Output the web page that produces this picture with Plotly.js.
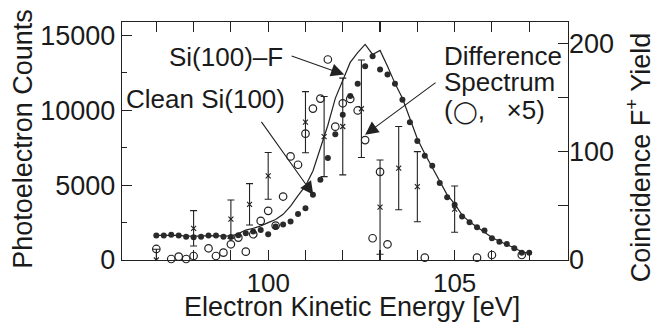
<!DOCTYPE html>
<html>
<head>
<meta charset="utf-8">
<script src="https://cdn.plot.ly/plotly-3.0.1.min.js"></script>
<style>html,body{margin:0;padding:0;background:#fff;}#chart{width:656px;height:322px;}</style>
</head>
<body>
<div id="chart"></div>
<script>
// Energy grid (eV) for the photoelectron spectra
var energyGrid = [97.0,97.2,97.4,97.6,97.8,98.0,98.2,98.4,98.6,98.8,99.0,99.2,99.4,99.6,99.8,
  100.0,100.2,100.4,100.6,100.8,101.0,101.2,101.4,101.6,101.8,102.0,102.2,102.4,102.6,102.8,
  103.0,103.2,103.4,103.6,103.8,104.0,104.2,104.4,104.6,104.8,105.0,105.2,105.4,105.6,105.8,
  106.0,106.2,106.4,106.6,106.8,107.0];
// Si(100)-F spectrum (line)
var siFCounts = [1650,1650,1660,1640,1600,1580,1600,1630,1630,1600,1600,1760,2000,2120,2280,
  2500,2700,3050,3600,4300,4950,5950,7500,9000,10800,12050,13200,13860,14400,13730,
  14000,12950,11800,10800,9500,8100,7100,6200,5200,4350,3750,3000,2550,2200,1900,
  1500,1250,1050,800,550,450];
// Clean Si(100) spectrum (filled dots)
var cleanCounts = [1630,1630,1680,1630,1560,1520,1560,1630,1630,1560,1540,1650,1790,1900,2010,
  1720,2230,2370,2565,3080,3460,4354,5358,6810,8400,9712,10950,11770,12950,13620,
  12730,12390,11770,10700,9200,7950,6966,6296,5137,4200,3684,2900,2525,2190,1963,
  1453,1226,1072,783,490,490];
// Difference spectrum x5 (open circles, visible points)
var diffEnergy = [97.0,97.4,97.6,97.8,98.0,98.4,98.6,98.8,99.0,99.2,99.4,99.6,99.8,100.0,100.2,
  100.4,100.6,100.8,101.0,101.2,101.4,101.6,101.8,102.0,102.2,102.4,102.6,102.8,103.0,103.2,
  104.2,105.6,106.0,106.8];
var diffCounts = [737,67,221,67,268,783,268,490,1050,1496,557,1720,2612,3282,2300,
  4240,6919,6363,8439,10114,10784,13396,8910,10470,10760,9990,8010,1453,5890,1050,
  154,154,335,335];
// Coincidence F+ yield (right axis) with error bars
var coinEnergy = [97.0,98.0,99.0,99.5,100.0,101.0,101.5,102.0,102.5,103.0,103.5,104.0,105.0];
var coinYield  = [0,29.3,37.8,51.5,77.8,127.4,114.1,123.4,139.8,48.9,84.9,67.8,47.0];
var coinError  = [10,16.3,17.7,19.1,21.6,28.2,37,44.7,45.1,43.6,38.5,32.4,21.4];
// Tick labels
var xTickVals = [97,98,99,100,101,102,103,104,105,106,107];
var xTickText = ['','','','100','','','','','105','',''];
var yTickVals = [0,5000,10000,15000];
var yTickText = ['0','5000','10000','15000'];
var y2TickVals = [0,50,100,150,200];
var y2TickText = ['0','','100','','200'];
// Texts
var xTitle = 'Electron Kinetic Energy [eV]';
var yTitle = 'Photoelectron Counts';
var y2Title = 'Coincidence F<sup>+</sup> Yield';

var ink = '#222';
var traces = [
  {x: energyGrid, y: siFCounts, type:'scatter', mode:'lines',
   line:{color:ink, width:1.2}, hoverinfo:'skip'},
  {x: energyGrid, y: cleanCounts, type:'scatter', mode:'markers',
   marker:{symbol:'circle', size:6, color:'#2a2a2a'}, cliponaxis:false},
  {x: diffEnergy, y: diffCounts, type:'scatter', mode:'markers',
   marker:{symbol:'circle-open', size:7.5, color:ink, line:{width:1.2, color:ink}}, cliponaxis:false},
  {x: coinEnergy, y: coinYield, yaxis:'y2', type:'scatter', mode:'markers',
   marker:{symbol:'x-thin', size:5, color:ink, line:{width:1.1, color:ink}},
   error_y:{type:'data', array: coinError, visible:true, width:3.5, thickness:1.1, color:ink}}
];

var font = 'Liberation Sans, Arial, Helvetica, sans-serif';
var txt = '#1a1a1a';
var layout = {
  width:656, height:322,
  margin:{l:122, r:88, t:22, b:62, pad:0},
  paper_bgcolor:'#fff', plot_bgcolor:'#fff',
  showlegend:false,
  font:{family:font, size:26, color:txt},
  xaxis:{range:[96.08,108.04], tickmode:'array', tickvals:xTickVals, ticktext:xTickText,
    ticks:'inside', ticklen:10, tickwidth:1.1, tickcolor:ink, ticklabelstandoff:0,
    showline:true, linecolor:ink, linewidth:1.2, mirror:'ticks',
    showgrid:false, zeroline:false, tickfont:{size:26, color:txt},
    automargin:false},
  yaxis:{range:[0,15900], tickmode:'array', tickvals:yTickVals, ticktext:yTickText,
    ticks:'inside', ticklen:10, tickwidth:1.1, tickcolor:ink,
    minor:{tick0:0, dtick:2500, ticks:'inside', ticklen:5, tickwidth:1.1, tickcolor:ink, showgrid:false},
    showline:true, linecolor:ink, linewidth:1.2, mirror:true,
    showgrid:false, zeroline:false, tickfont:{size:27, color:txt},
    automargin:false},
  yaxis2:{overlaying:'y', side:'right', range:[0,220], tickmode:'array',
    tickvals:y2TickVals, ticktext:y2TickText,
    ticks:'inside', ticklen:10, tickwidth:1.1, tickcolor:ink,
    showline:false, showgrid:false, zeroline:false, tickfont:{size:27, color:txt},
    automargin:false},
  annotations:[
    {x:0.516, y:-0.128, xref:'paper', yref:'paper', text:xTitle, showarrow:false,
     xanchor:'center', yanchor:'top', font:{size:27, color:txt}},
    {x:-0.221, y:0.511, xref:'paper', yref:'paper', text:yTitle, showarrow:false, textangle:-90,
     xanchor:'center', yanchor:'middle', font:{size:27, color:txt}},
    {x:1.159, y:0.431, xref:'paper', yref:'paper', text:y2Title, showarrow:false, textangle:-90,
     xanchor:'center', yanchor:'middle', font:{size:27, color:txt}},
    {x:98.86, y:13530, xref:'x', yref:'y', text:'Si(100)–F', showarrow:false,
     xanchor:'center', yanchor:'middle', font:{size:26}},
    {x:98.33, y:10784, xref:'x', yref:'y', text:'Clean Si(100)', showarrow:false,
     xanchor:'center', yanchor:'middle', font:{size:26}},
    {x:104.66, y:13597, xref:'x', yref:'y', text:'Difference', showarrow:false,
     xanchor:'left', yanchor:'middle', font:{size:26}},
    {x:104.66, y:11922, xref:'x', yref:'y', text:'Spectrum', showarrow:false,
     xanchor:'left', yanchor:'middle', font:{size:26}},
    {x:104.66, y:10050, xref:'x', yref:'y', text:'(<span style="font-size:22px">◯</span>,\u00a0\u00a0\u00a0×5)', showarrow:false,
     xanchor:'left', yanchor:'middle', font:{size:26}},
    {x:102.04, y:12390, xref:'x', yref:'y', axref:'x', ayref:'y', ax:100.59, ay:13664,
     text:'', showarrow:true, arrowhead:2, arrowsize:2.4, arrowwidth:1.1, arrowcolor:ink},
    {x:101.21, y:4354, xref:'x', yref:'y', axref:'x', ayref:'y', ax:99.79, ay:9330,
     text:'', showarrow:true, arrowhead:2, arrowsize:2.4, arrowwidth:1.1, arrowcolor:ink},
    {x:102.6, y:8372, xref:'x', yref:'y', axref:'x', ayref:'y', ax:104.53, ay:11922,
     text:'', showarrow:true, arrowhead:2, arrowsize:2.4, arrowwidth:1.1, arrowcolor:ink}
  ]
};
Plotly.newPlot('chart', traces, layout, {staticPlot:true, displayModeBar:false});
</script>
</body>
</html>
